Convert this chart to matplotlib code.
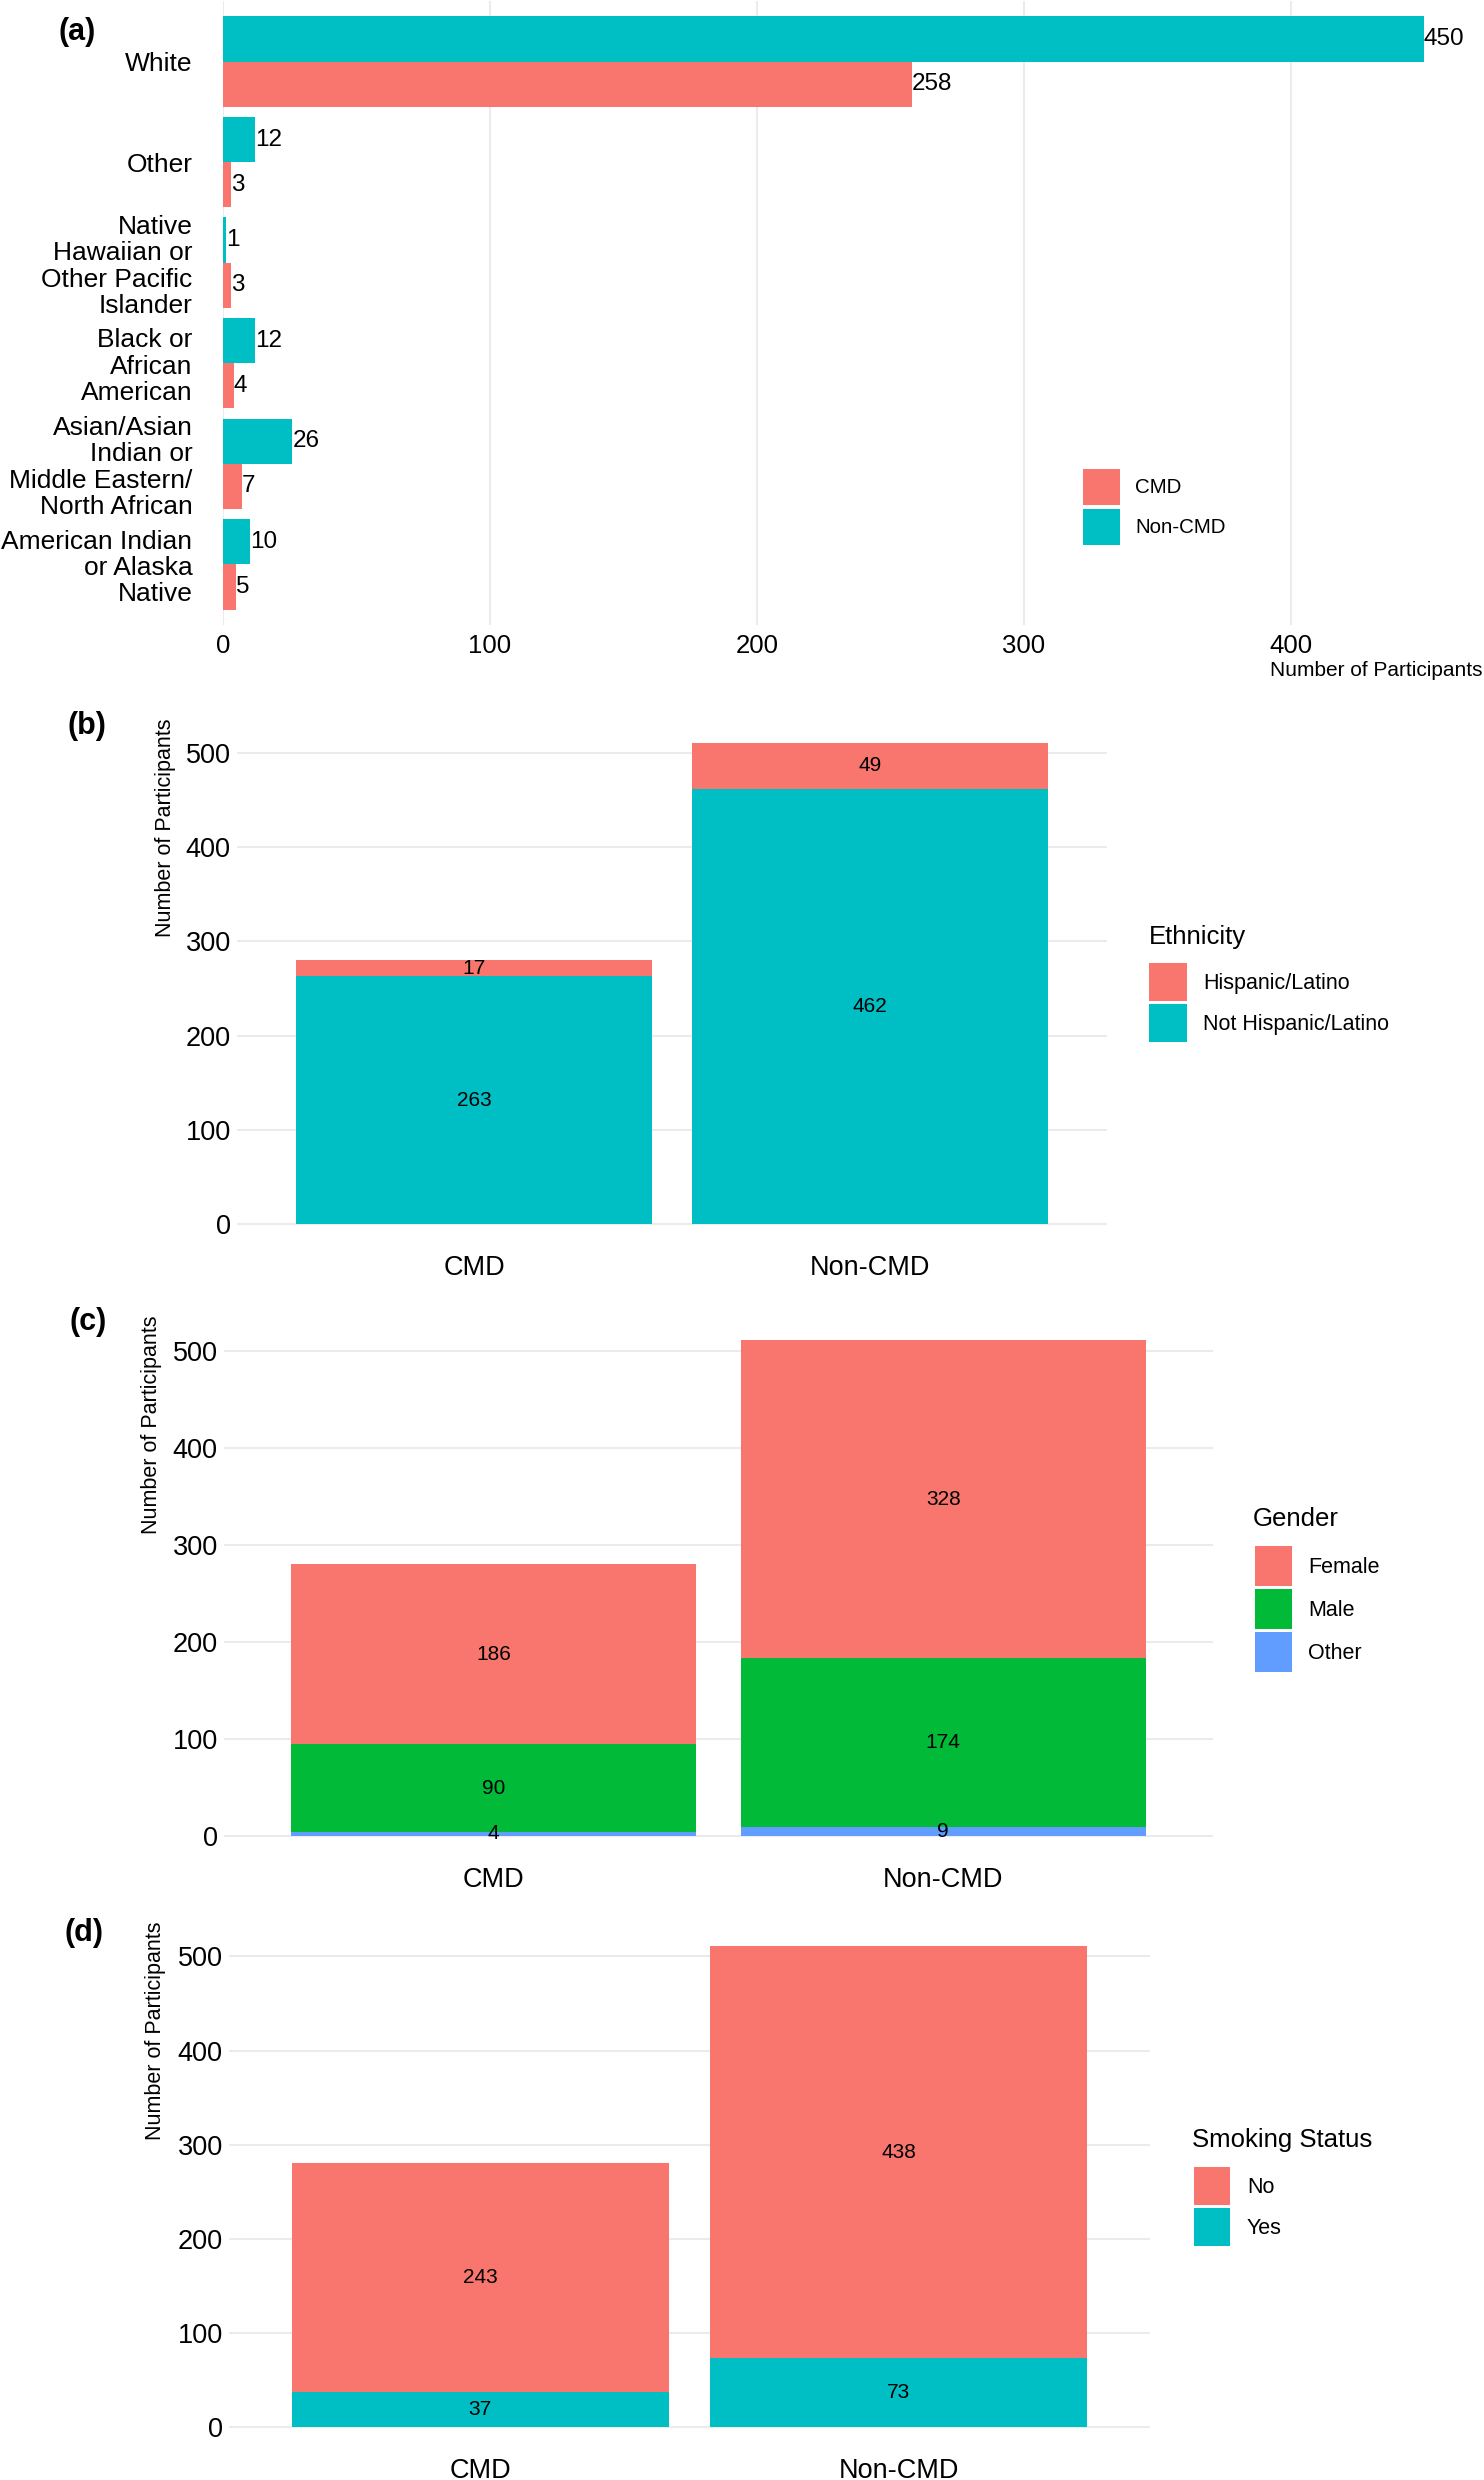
import matplotlib.pyplot as plt
import numpy as np
from matplotlib.patches import Patch

plt.rcParams['font.family'] = ['Liberation Sans', 'DejaVu Sans']

# colours (ggplot defaults)
red = '#F8766D'
teal = '#00BFC4'
green = '#00BA38'
blue = '#619CFF'
grid_c = '#EBEBEB'

# (a) race, top to bottom
race_labels = ['White', 'Other', 'Native\nHawaiian or\nOther Pacific\nIslander',
               'Black or\nAfrican\nAmerican',
               'Asian/Asian\nIndian or\nMiddle Eastern/\nNorth African',
               'American Indian\nor Alaska\nNative']
race_cmd = [258, 3, 3, 4, 7, 5]
race_noncmd = [450, 12, 1, 12, 26, 10]

# (b)-(d)
groups = ['CMD', 'Non-CMD']
eth_hisp = [17, 49]
eth_not = [263, 462]
gen_female = [186, 328]
gen_male = [90, 174]
gen_other = [4, 9]
smoke_no = [243, 438]
smoke_yes = [37, 73]

W, H = 1484, 2480
fig = plt.figure(figsize=(W / 100, H / 100), dpi=100)


def box(x0, y0, x1, y1):
    return [x0 / W, 1 - y1 / H, (x1 - x0) / W, (y1 - y0) / H]


def clean(ax):
    for s in ax.spines.values():
        s.set_visible(False)
    ax.set_axisbelow(True)


def legend(ax, labels, colors, x, y, kw, kh, gap, tpad, fs):
    fpx = fs * 100 / 72
    # matplotlib takes off a descent from the key height
    hh = (kh / fpx - 0.245) / 0.65
    handles = [Patch(facecolor=c, edgecolor='none') for c in colors]
    ax.legend(handles, labels, loc='upper left', bbox_to_anchor=(x / W, 1 - y / H),
              bbox_transform=fig.transFigure, frameon=False, borderpad=0,
              borderaxespad=0, fontsize=fs, handlelength=kw / fpx,
              handleheight=hh, labelspacing=gap / fpx,
              handletextpad=tpad / fpx)


# ---- (a)
ax = fig.add_axes(box(223, 1.3, 1484, 624.6))
clean(ax)
pos = np.arange(len(race_labels))
ax.barh(pos - 0.225, race_noncmd, height=0.45, color=teal)
ax.barh(pos + 0.225, race_cmd, height=0.45, color=red)
for p, v in zip(pos, race_noncmd):
    ax.text(v, p - 0.225, str(v), ha='left', va='center', fontsize=17.5)
for p, v in zip(pos, race_cmd):
    ax.text(v, p + 0.225, str(v), ha='left', va='center', fontsize=17.5)
ax.set_ylim(len(race_labels) - 0.4, -0.6)
ax.set_xlim(0, 472.5)
ax.set_yticks(pos)
ax.set_yticklabels(race_labels, fontsize=19, linespacing=1.13)
ax.set_xticks([0, 100, 200, 300, 400])
ax.tick_params(axis='x', labelsize=18.5, length=0, pad=7)
ax.tick_params(axis='y', length=0, pad=22)
ax.grid(axis='x', color=grid_c, lw=1.5)
legend(ax, ['CMD', 'Non-CMD'], [red, teal], 1083, 469, 37, 36, 4, 15, 14.8)
fig.text(1483 / W, 1 - 671 / H, 'Number of Participants', ha='right', va='center',
         fontsize=15)
fig.text(77 / W, 1 - 32 / H, '(a)', ha='center', va='center', fontsize=22,
         fontweight='bold')


def stacked(rect, layers, colors, ytitle_x, tag_xy, tag):
    ax = fig.add_axes(box(*rect))
    clean(ax)
    x = np.arange(len(groups))
    bottom = np.zeros(len(groups))
    for vals, c in zip(layers, colors):
        vals = np.array(vals)
        ax.bar(x, vals, width=0.9, bottom=bottom, color=c)
        for xi, b, v in zip(x, bottom, vals):
            ax.text(xi, b + v / 2, str(v), ha='center', va='center', fontsize=15)
        bottom = bottom + vals
    top = bottom.max() * 1.05
    ax.set_ylim(-bottom.max() * 0.05, top)
    ax.set_xlim(-0.6, len(groups) - 0.4)
    ax.set_xticks(x)
    ax.set_xticklabels(groups)
    ax.set_yticks([0, 100, 200, 300, 400, 500])
    ax.tick_params(axis='y', length=0, pad=4.5, labelsize=19.5)
    ax.tick_params(axis='x', length=0, pad=5, labelsize=19.5)
    ax.grid(axis='y', color=grid_c, lw=1.5)
    fig.text(ytitle_x / W, 1 - rect[1] / H, 'Number of Participants', rotation=90,
             ha='center', va='top', fontsize=15.5)
    fig.text(tag_xy[0] / W, 1 - tag_xy[1] / H, tag, ha='center', va='center',
             fontsize=22, fontweight='bold')
    return ax


# ---- (b)
ax = stacked((237, 718.6, 1107, 1248), [eth_not, eth_hisp], [teal, red], 166,
             (87, 726), '(b)')
fig.text(1149 / W, 1 - 937 / H, 'Ethnicity', ha='left', va='center', fontsize=18.5)
legend(ax, ['Hispanic/Latino', 'Not Hispanic/Latino'], [red, teal],
       1149, 963.5, 38, 38, 3, 16, 15.5)

# ---- (c)
ax = stacked((224, 1315.6, 1213, 1860.3), [gen_other, gen_male, gen_female],
             [blue, green, red], 151, (88, 1322), '(c)')
fig.text(1253 / W, 1 - 1519.5 / H, 'Gender', ha='left', va='center', fontsize=18.5)
legend(ax, ['Female', 'Male', 'Other'], [red, green, blue],
       1255, 1546, 37, 40, 3, 16, 15.5)

# ---- (d)
ax = stacked((229, 1922, 1150, 2451), [smoke_yes, smoke_no], [teal, red], 156,
             (84, 1933), '(d)')
fig.text(1192 / W, 1 - 2140 / H, 'Smoking Status', ha='left', va='center',
         fontsize=18.5)
legend(ax, ['No', 'Yes'], [red, teal], 1194, 2167, 36, 38, 3, 17, 15.5)

fig.savefig('out.png', dpi=100)
